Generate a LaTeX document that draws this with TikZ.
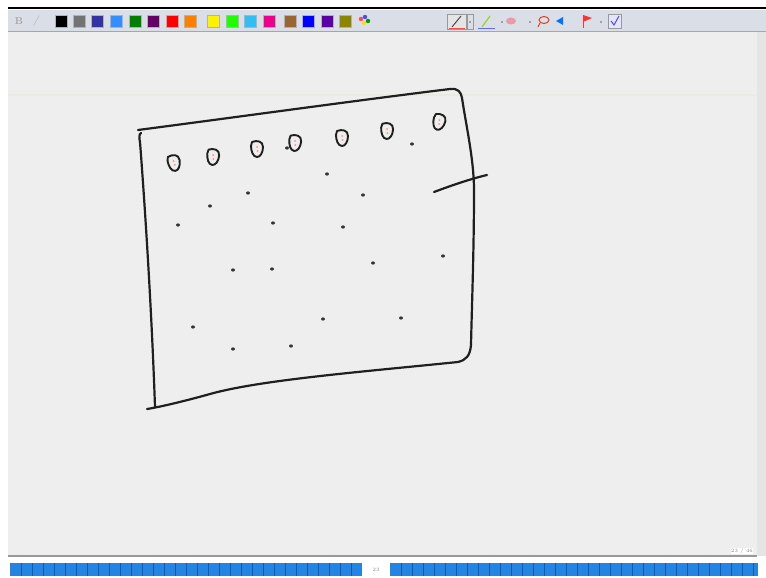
\documentclass[tikz,border=0pt]{standalone}
\usepackage{tikz}
\definecolor{barblue}{RGB}{35,132,228}
\definecolor{barline}{RGB}{20,90,170}
\definecolor{tbgray}{RGB}{218,222,230}
\definecolor{canvas}{RGB}{238,238,238}
\definecolor{faintline}{RGB}{234,234,226}
\begin{document}
\begin{tikzpicture}[x=1pt,y=-1pt,
  ink/.style={line width=2.2pt,line cap=round,line join=round,draw=black!88},
  dotmark/.style={fill=black!80},
  swatch/.style={draw=black!30,line width=0.3pt},
  shieldpic/.pic={
    \draw[ink,line width=1.9pt] (-5,-7) .. controls (0,-9) and (6,-8) .. (6,-2)
       .. controls (6,4) and (3,8) .. (0,8) .. controls (-4,8) and (-6,2) .. (-6,-3)
       .. controls (-6,-5) .. cycle;
    \fill[red!45] (0,-2) circle (1) (0.5,2) circle (1);
  }]
\useasboundingbox (0,0) rectangle (766,578);
% background
\fill[white] (0,0) rectangle (766,578);
\fill[canvas] (8,32) rectangle (757,556);
% top bar
\draw[black,line width=1.5pt] (8,8) -- (766,8);
\fill[tbgray] (8,10) rectangle (766,31);
\draw[black!35,line width=0.6pt] (8,31) -- (766,31);
% right scrollbar
\fill[black!10] (757,32) rectangle (766,556);
% toolbar text
\node[text=black!35,font=\bfseries] (bold) at (19,21) {B};
\node[text=black!35,font=\itshape] (ital) at (36,21) {/};
% colour swatches
\foreach \xx/\cc in {61/black,79/black!55,97/blue!55!black!80,116/blue!55!cyan!80,135/green!50!black,153/violet!80!black,172/red,190/orange,213/yellow,232/green!85!lime,250/cyan!80,269/magenta,290/brown!80!black,308/blue,327/violet!70!blue,345/olive}{
  \fill[\cc,swatch] (\xx-6,15) rectangle (\xx+6,27);
}
\fill[red!70] (361,19) circle (2.2);
\fill[blue!70] (365,17) circle (2.2);
\fill[green!60!black] (368,21) circle (2.2);
\fill[yellow!80!orange] (364,23) circle (2);
% right tools
\draw[black!40,line width=0.5pt,fill=black!10] (447,14) rectangle (466,29);
\draw[black!70,line width=1pt] (452,27) -- (461,16);
\draw[red!70,line width=0.8pt] (449,28) -- (465,28);
\draw[black!40,line width=0.5pt] (467,14) rectangle (473,29);
\fill[black!60] (470,22) circle (0.8);
\draw[yellow!60!green,line width=1.2pt] (482,27) -- (490,16);
\draw[blue!60,line width=0.8pt] (478,28) -- (495,28);
\fill[black!60] (502,22) circle (0.8);
\fill[violet!40!red!40] (511,21) ellipse (5 and 3.5);
\fill[black!60] (530,22) circle (0.8);
\draw[red!50!brown,line width=1pt] (544,20) ellipse (5 and 3.5);
\draw[red!50!brown,line width=1pt] (540,23) -- (538,27);
\fill[blue!55!cyan] (556,21) -- (563,17) -- (563,25) -- cycle;
\draw[red!80,line width=1pt] (583,28) -- (583,15);
\fill[red!80] (583,15) -- (592,18) -- (583,22) -- cycle;
\fill[black!60] (601,22) circle (0.8);
\draw[black!40,fill=blue!10] (608,14) rectangle (621,28);
\draw[blue!70,line width=1pt] (611,21) -- (614,25) -- (619,16);
% faint line
\draw[faintline,line width=2pt] (8,95) -- (757,95);
% bottom
\draw[black!40,line width=1.4pt] (8,556) -- (757,556);
\fill[barblue] (10,563) rectangle (362,576);
\fill[barblue] (390,563) rectangle (758,576);
\foreach \xx in {21,32,...,361}{\draw[barline,line width=0.5pt] (\xx,563) -- (\xx,576);}
\foreach \xx in {401,412,...,757}{\draw[barline,line width=0.5pt] (\xx,563) -- (\xx,576);}
\node[font=\tiny,text=black!50] (pagenum) at (376,570) {23};
\node[font=\tiny,text=black!50,fill=white,inner sep=0.5pt] (pagecount) at (742,551) {23 / 46};
% sketch: frame
\draw[ink] (138,130) .. controls (230,118) and (360,100) .. (450,89)
  .. controls (458,88) and (461,92) .. (462,98)
  .. controls (466,125) and (474,160) .. (474,190)
  .. controls (474,250) and (472,300) .. (471,345)
  .. controls (470,356) and (466,360) .. (458,362)
  .. controls (360,372) and (260,380) .. (210,394)
  .. controls (185,401) and (160,407) .. (147,409);
\draw[ink] (141,133) .. controls (139,134) and (139,138) .. (140,142)
  .. controls (146,220) and (152,320) .. (155,407);
\draw[ink] (434,192) .. controls (450,186) and (470,179) .. (487,175);
% shields
\foreach \px/\py/\rr in {174/163/10,213/157/-5,257/149/0,295/143/-5,342/138/0,387/131/-3,439/122/-15}{
  \pic[rotate=\rr] at (\px,\py) {shieldpic};
}
% dots
\foreach \px/\py in {248/193,210/206,363/195,178/225,273/223,343/227,233/270,272/269,373/263,443/256,193/327,323/319,401/318,233/349,291/346,327/174,412/144,287/148}{
  \fill[dotmark] (\px,\py) ellipse (2 and 1.6);
}
\end{tikzpicture}
\end{document}
